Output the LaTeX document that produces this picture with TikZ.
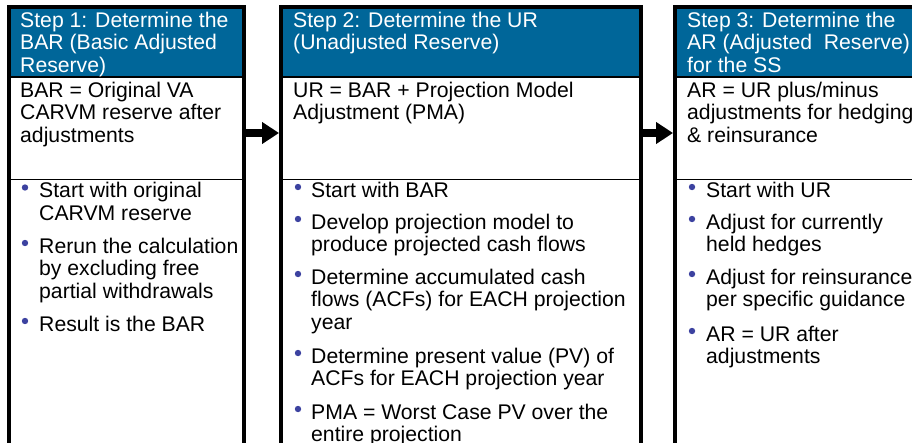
\documentclass[tikz,border=0pt]{standalone}
\usepackage{fontspec}
\setmainfont{Liberation Sans}
\usetikzlibrary{arrows.meta}
\definecolor{hdrblue}{RGB}{0,102,153}
\definecolor{dotblue}{RGB}{60,66,160}
\tikzset{
  panel/.style={draw=black, line width=4pt, anchor=north west, minimum height=480pt, inner sep=0pt},
  hdrfill/.style={fill=hdrblue},
  rule/.style={draw=black, line width=1.3pt},
  txt/.style={anchor=north west, inner sep=0pt, align=left, text=black,
              font=\fontsize{21.2}{22.6}\selectfont},
  hdrtxt/.style={txt, text=white},
  flowarrow/.style={draw=black, line width=8pt, -{Triangle[length=17pt,width=21pt]}},
  bulletdot/.style={fill=dotblue}
}
\newcommand{\fl}{\rule{0pt}{16pt}}
\begin{document}
\begin{tikzpicture}[x=1pt,y=-1pt]
\useasboundingbox (0,0) rectangle (912,442);
\clip (0,0) rectangle (912,442);
\fill[white] (0,0) rectangle (912,442);

% blue title bands
\fill[hdrfill] (9,7) rectangle (244,77);
\fill[hdrfill] (281,7) rectangle (641,77);
\fill[hdrfill] (675,7) rectangle (960,77);

% rules under the title and above the bullet lists
\draw[rule] (9,77) -- (244,77);
\draw[rule] (281,77) -- (641,77);
\draw[rule] (675,77) -- (960,77);
\draw[rule, line width=1pt] (9,179) -- (244,179);
\draw[rule, line width=1pt] (281,179) -- (641,179);
\draw[rule, line width=1pt] (675,179) -- (960,179);

% panel frames
\node[panel, minimum width=235pt] (p1) at (7,5) {};
\node[panel, minimum width=360pt] (p2) at (279,5) {};
\node[panel, minimum width=300pt] (p3) at (673,5) {};

% arrows between the steps
\coordinate (ay) at (0,133);
\draw[flowarrow] (p1.east |- ay) -- (p2.west |- ay);
\draw[flowarrow] (p2.east |- ay) -- (p3.west |- ay);

% ---- Step 1
\node[hdrtxt] (h1) at (20,11) {\fl Step 1: Determine the\\BAR (Basic Adjusted\\Reserve)};
\node[txt] (d1) at (20,81) {\fl BAR = Original VA\\CARVM reserve after\\adjustments};
\fill[bulletdot] (25,187.5) circle (3.2);
\node[txt] (s1a) at (39,181.5) {\fl Start with original\\CARVM reserve};
\fill[bulletdot] (25,243) circle (3.2);
\node[txt] (s1b) at (39,237) {\fl Rerun the calculation\\by excluding free\\partial withdrawals};
\fill[bulletdot] (25,321) circle (3.2);
\node[txt] (s1c) at (39,315) {\fl Result is the BAR};

% ---- Step 2
\node[hdrtxt] (h2) at (293,11) {\fl Step 2: Determine the UR\\(Unadjusted Reserve)};
\node[txt] (d2) at (293,81) {\fl UR = BAR + Projection Model\\Adjustment (PMA)};
\fill[bulletdot] (298,187) circle (3.2);
\node[txt] (s2a) at (311,181) {\fl Start with BAR};
\fill[bulletdot] (298,219) circle (3.2);
\node[txt] (s2b) at (311,213) {\fl Develop projection model to\\produce projected cash flows};
\fill[bulletdot] (298,274) circle (3.2);
\node[txt] (s2c) at (311,268) {\fl Determine accumulated cash\\flows (ACFs) for EACH projection\\year};
\fill[bulletdot] (298,353) circle (3.2);
\node[txt] (s2d) at (311,347) {\fl Determine present value (PV) of\\ACFs for EACH projection year};
\fill[bulletdot] (298,409) circle (3.2);
\node[txt] (s2e) at (311,403) {\fl PMA = Worst Case PV over the\\entire projection};

% ---- Step 3
\node[hdrtxt] (h3) at (687,11) {\fl Step 3: Determine the\\AR (Adjusted\ \ Reserve)\\for the SS};
\node[txt] (d3) at (687,81) {\fl AR = UR plus/minus\\adjustments for hedging\\\& reinsurance};
\fill[bulletdot] (692,187) circle (3.2);
\node[txt] (s3a) at (706,181) {\fl Start with UR};
\fill[bulletdot] (692,219) circle (3.2);
\node[txt] (s3b) at (706,213) {\fl Adjust for currently\\held hedges};
\fill[bulletdot] (692,274) circle (3.2);
\node[txt] (s3c) at (706,268) {\fl Adjust for reinsurance\\per specific guidance};
\fill[bulletdot] (692,331) circle (3.2);
\node[txt] (s3d) at (706,325) {\fl AR = UR after\\adjustments};
\end{tikzpicture}
\end{document}
